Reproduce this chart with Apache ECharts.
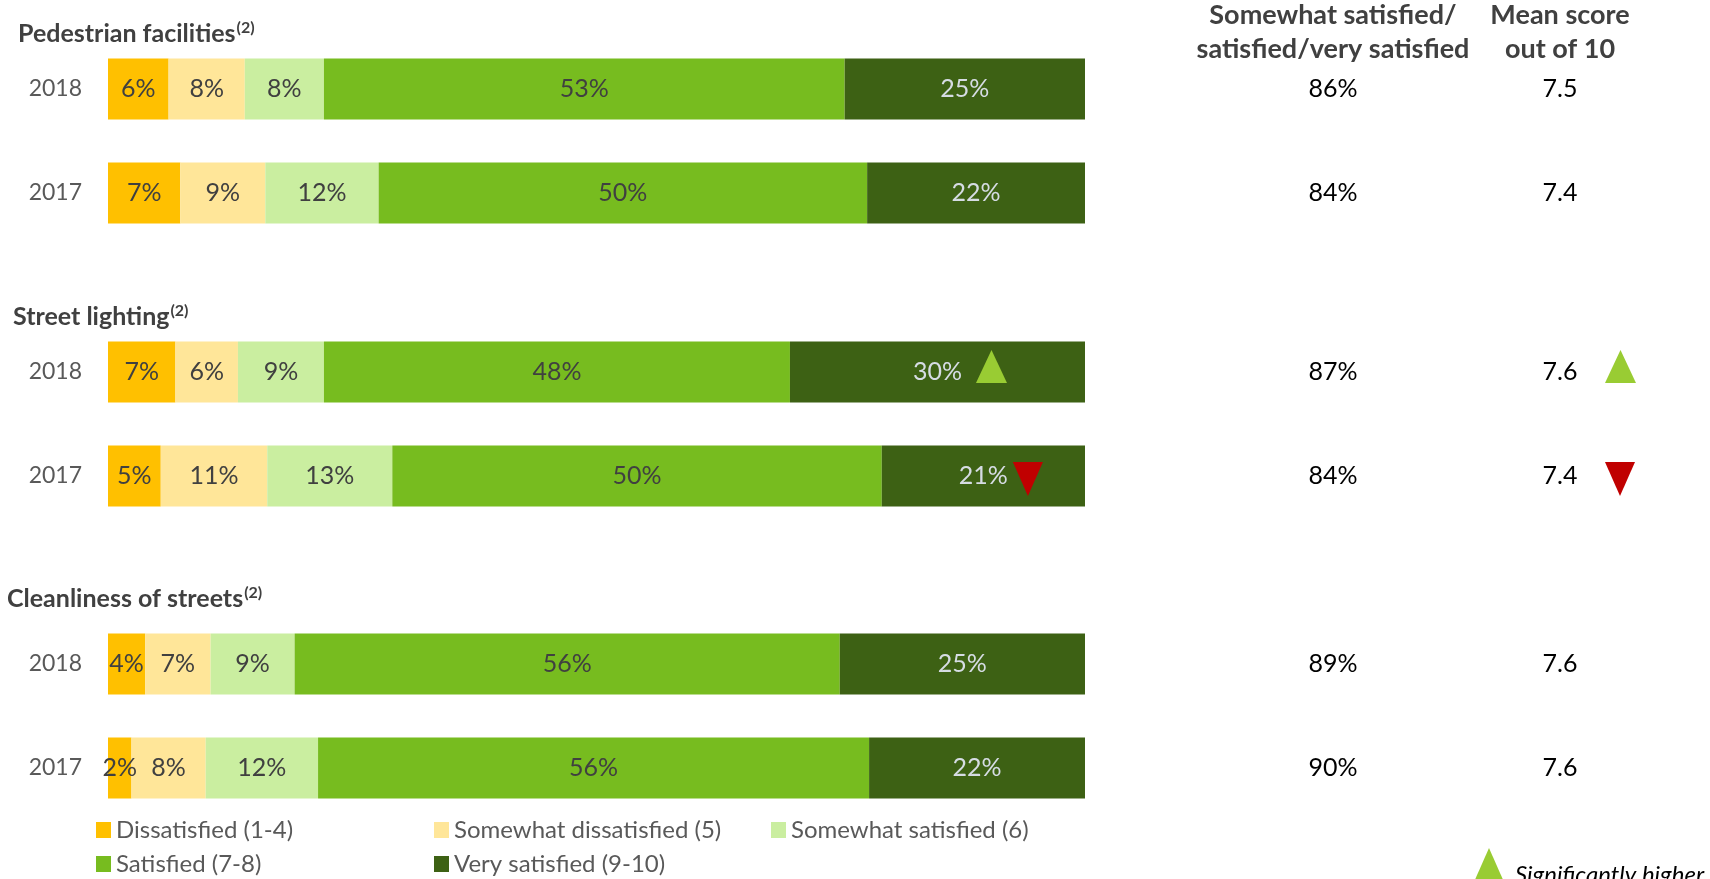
<!DOCTYPE html>
<html><head><meta charset="utf-8">
<script src="https://cdn.jsdelivr.net/npm/echarts@6/dist/echarts.min.js"></script>
<style>html,body{margin:0;padding:0;background:#fff}#c{width:1710px;height:879px}</style>
</head><body><div id="c"></div>
<script>
// ---- data (rows: Pedestrian 2018, Pedestrian 2017, Street 2018, Street 2017, Cleanliness 2018, Cleanliness 2017)
const groups = ['Pedestrian facilities', 'Street lighting', 'Cleanliness of streets'];
const years = ['2018', '2017'];
const categories = ['Dissatisfied (1-4)', 'Somewhat dissatisfied (5)', 'Somewhat satisfied (6)', 'Satisfied (7-8)', 'Very satisfied (9-10)'];
const dissatisfied = [6.2, 7.4, 6.9, 5.4, 3.8, 2.4];
const somewhatDissatisfied = [7.8, 8.7, 6.4, 10.9, 6.7, 7.6];
const somewhatSatisfied = [8.1, 11.6, 8.8, 12.8, 8.6, 11.5];
const satisfied = [53.3, 50.0, 47.7, 50.1, 55.8, 56.4];
const verySatisfied = [24.6, 22.3, 30.2, 20.8, 25.1, 22.1];
const netSatisfied = [86, 84, 87, 84, 89, 90];
const meanScore = [7.5, 7.4, 7.6, 7.4, 7.6, 7.6];
const significance = ['', '', 'up', 'down', '', ''];
const headerNet = ['Somewhat satisfied/', 'satisfied/very satisfied'];
const headerMean = ['Mean score', 'out of 10'];
const footnote = '(2)';
const sigLabel = 'Significantly higher';

const seriesValues = [dissatisfied, somewhatDissatisfied, somewhatSatisfied, satisfied, verySatisfied];
const colors = ['#FFC000', '#FFE699', '#CAEEA0', '#77BC1F', '#3D6114'];
const labelColors = ['#404040', '#404040', '#404040', '#404040', '#D6DCE4'];
const FONT = 'Lato';

function triSvg(dir, w, h, off, color) {
  const pts = dir === 'up'
    ? `${w/2},${off} ${w},${off+33} 0,${off+33}`
    : `0,${off} ${w},${off} ${w/2},${off+34}`;
  return 'data:image/svg+xml;charset=utf-8,' + encodeURIComponent(
    `<svg xmlns="http://www.w3.org/2000/svg" width="${w}" height="${h}"><polygon points="${pts}" fill="${color}"/></svg>`);
}
const upImg = triSvg('up', 31, 44, 0, '#99CC33');
const dnImg = triSvg('down', 30, 40, 6, '#C00000');

const chart = echarts.init(document.getElementById('c'), null, {renderer: 'canvas'});

const gridTops = [37, 320, 612];
const grid = [], xAxis = [], yAxis = [], series = [];
gridTops.forEach((t, g) => {
  grid.push({left: 108, right: 625, top: t, height: 208});
  xAxis.push({type: 'value', gridIndex: g, min: 0, max: 100, show: false});
  yAxis.push({type: 'category', gridIndex: g, data: years, inverse: true, position: 'left',
    axisLine: {show: false}, axisTick: {show: false}, splitLine: {show: false},
    axisLabel: {fontSize: 23, color: '#595959', fontFamily: FONT, margin: 26}});
  yAxis.push({type: 'category', gridIndex: g, data: years, inverse: true, position: 'right',
    axisLine: {show: false}, axisTick: {show: false}, splitLine: {show: false},
    axisLabel: {margin: 66, interval: 0,
      formatter: (v, i) => {
        const r = 2 * g + i;
        let s = `{a|${netSatisfied[r]}%}{b|${meanScore[r].toFixed(1)}}`;
        if (significance[r] === 'up') s += '{up|}';
        if (significance[r] === 'down') s += '{dn|}';
        return s;
      },
      rich: {
        a: {width: 364, align: 'center', fontSize: 25, color: '#000', fontFamily: FONT},
        b: {width: 90, align: 'center', fontSize: 25, color: '#000', fontFamily: FONT},
        up: {width: 31, height: 44, backgroundColor: {image: upImg}},
        dn: {width: 30, height: 40, backgroundColor: {image: dnImg}}
      }}});
  seriesValues.forEach((vals, k) => {
    series.push({
      type: 'bar', name: categories[k], xAxisIndex: g, yAxisIndex: 2 * g, stack: 'g' + g,
      barWidth: 61, data: [vals[2 * g], vals[2 * g + 1]],
      itemStyle: {color: colors[k]},
      emphasis: {disabled: true},
      label: {show: true, position: 'inside',
        formatter: p => {
          const r = 2 * g + p.dataIndex;
          const txt = Math.round(p.value) + '%';
          if (k === 4 && significance[r] === 'up') return `{pu|}{v|${txt}}{gu|}{up|}`;
          if (k === 4 && significance[r] === 'down') return `{pd|}{v|${txt}}{gd|}{dn|}`;
          return `{v|${txt}}`;
        },
        rich: {
          v: {fontSize: 25, color: labelColors[k], fontFamily: FONT},
          pu: {width: 45}, gu: {width: 14},
          pd: {width: 35}, gd: {width: 5},
          up: {width: 31, height: 44, backgroundColor: {image: upImg}},
          dn: {width: 30, height: 40, backgroundColor: {image: dnImg}}
        }}
    });
  });
});

const legendText = {fontSize: 24, color: '#595959', fontFamily: FONT};
const legendBase = {orient: 'vertical', icon: 'rect', itemWidth: 15, itemHeight: 16, itemGap: 10,
  selectedMode: false, textStyle: legendText, padding: 0};
const legend = [
  Object.assign({left: 96, top: 818, data: [categories[0], categories[3]]}, legendBase),
  Object.assign({left: 434, top: 818, data: [categories[1], categories[4]]}, legendBase),
  Object.assign({left: 771, top: 818, data: [categories[2]]}, legendBase)
];

const titleRich = {
  t: {fontSize: 25, fontWeight: 'bold', fill: '#404040', fontFamily: FONT},
  s: {fontSize: 16, fontWeight: 'bold', fill: '#404040', fontFamily: FONT, verticalAlign: 'top', padding: [0, 0, 12, 1]}
};
const titlePos = [[18, 34], [13, 317], [7, 599]];
const graphic = [];
groups.forEach((name, g) => {
  graphic.push({type: 'text', x: titlePos[g][0], y: titlePos[g][1],
    style: {text: `{t|${name}}{s|${footnote}}`, rich: titleRich, verticalAlign: 'middle', align: 'left'}});
});
const headStyle = {fontSize: 27, fontWeight: 'bold', fill: '#404040', fontFamily: FONT, align: 'center', verticalAlign: 'middle'};
[[headerNet, 1333], [headerMean, 1560]].forEach(([lines, cx]) => {
  lines.forEach((ln, i) => {
    graphic.push({type: 'text', x: cx, y: i === 0 ? 15 : 49, style: Object.assign({text: ln}, headStyle)});
  });
});
graphic.push({type: 'polygon', shape: {points: [[1489, 848], [1504, 882], [1474, 882]]}, style: {fill: '#99CC33'}});
graphic.push({type: 'text', x: 1515, y: 875, style: {text: sigLabel, fontSize: 24, fontStyle: 'italic', fill: '#000', fontFamily: FONT, verticalAlign: 'middle'}});

chart.setOption({animation: false, grid, xAxis, yAxis, series, legend, graphic});
</script>
</body></html>
